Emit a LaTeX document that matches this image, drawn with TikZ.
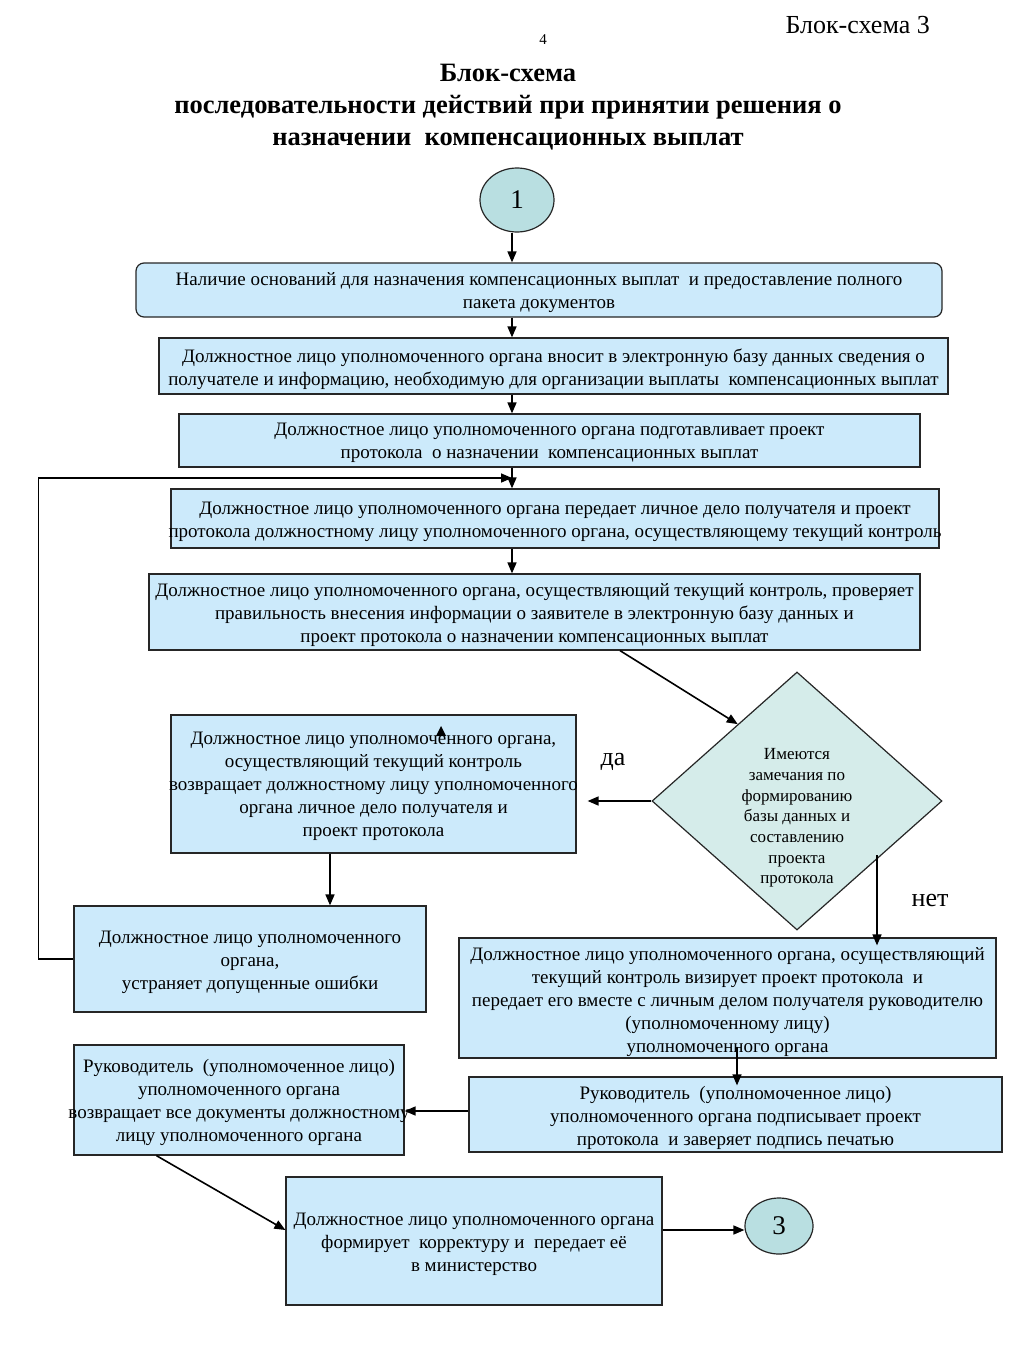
\documentclass[tikz,border=0pt]{standalone}
\usepackage{fontspec}
\setmainfont{Liberation Serif}
\usetikzlibrary{arrows.meta,calc,shapes.geometric}
\definecolor{boxblue}{HTML}{CCEAFB}
\definecolor{circteal}{HTML}{B9DFE1}
\definecolor{diateal}{HTML}{D5ECEA}
\tikzset{
  box/.style={draw=black!85, fill=boxblue, line width=1.2pt, inner sep=0pt},
  txt/.style={inner sep=0pt, align=center, font=\fontsize{19}{23}\selectfont},
  circ/.style={ellipse, draw=black!85, fill=circteal, line width=1.2pt, inner sep=0pt,
    font=\fontsize{27}{27}\selectfont},
  conn/.style={line width=1.6pt, -{Triangle[length=11pt,width=9pt]}},
  lbl/.style={font=\fontsize{26}{26}\selectfont, inner sep=0pt}
}
\begin{document}
\begin{tikzpicture}[x=1pt,y=-1pt]
\useasboundingbox (0,0) rectangle (1024,1365);
% headings
\node[lbl, anchor=east] (hdr) at (930,25) {Блок-схема 3};
\node[font=\fontsize{15}{15}\selectfont, inner sep=0pt] (pg) at (543,40) {4};
\node[font=\bfseries\fontsize{26.5}{32}\selectfont, align=center, inner sep=0pt] (ttl) at (508,107)
  {Блок-схема\\последовательности действий при принятии решения о\\назначении\ \ компенсационных выплат};
% nodes
\node[circ, minimum width=74pt, minimum height=64pt] (c1) at (517,200) {1};
\node[box, rounded corners=8pt, minimum width=806pt, minimum height=54pt] (b1) at (539,290) {};
\node[txt] (t1) at ($(b1)+(0,3)$)
  {Наличие оснований для назначения компенсационных выплат\ \ и предоставление полного\\пакета документов};
\node[box, minimum width=789pt, minimum height=56pt] (b2) at (553.5,366) {};
\node[txt] (t2) at ($(b2)+(0,3)$)
  {Должностное лицо уполномоченного органа вносит в электронную базу данных сведения о\\получателе и информацию, необходимую для организации выплаты\ \ компенсационных выплат};
\node[box, minimum width=741pt, minimum height=53pt] (b3) at (549.5,440.5) {};
\node[txt] (t3) at ($(b3)+(0,2)$)
  {Должностное лицо уполномоченного органа подготавливает проект\\протокола\ \ о назначении\ \ компенсационных выплат};
\node[box, minimum width=768pt, minimum height=59pt] (b4) at (555,518.5) {};
\node[txt] (t4) at ($(b4)+(0,3)$)
  {Должностное лицо уполномоченного органа передает личное дело получателя и проект\\протокола должностному лицу уполномоченного органа, осуществляющему текущий контроль};
\node[box, minimum width=771pt, minimum height=76pt] (b5) at (534.5,612) {};
\node[txt] (t5) at ($(b5)+(0,3)$)
  {Должностное лицо уполномоченного органа, осуществляющий текущий контроль, проверяет\\правильность внесения информации о заявителе в электронную базу данных и\\проект протокола о назначении компенсационных выплат};
\node[diamond, draw=black!85, fill=diateal, line width=1.2pt, inner sep=0pt,
  minimum width=290pt, minimum height=258pt] (dia) at (797,801) {};
\node[align=center, inner sep=0pt, font=\fontsize{17}{20.7}\selectfont] (diat) at (797,818)
  {Имеются\\замечания по\\формированию\\базы данных и\\составлению\\проекта\\протокола};
\node[box, minimum width=405pt, minimum height=138pt] (b6) at (373.5,784) {};
\node[txt] (t6) at ($(b6)+(0,2)$)
  {Должностное лицо уполномоченного органа,\\осуществляющий текущий контроль\\возвращает должностному лицу уполномоченного\\органа личное дело получателя и\\проект протокола};
\node[box, minimum width=352pt, minimum height=106pt] (b7) at (250,959) {};
\node[txt] (t7) at ($(b7)+(0,3)$)
  {Должностное лицо уполномоченного\\органа,\\устраняет допущенные ошибки};
\node[box, minimum width=537pt, minimum height=120pt] (b8) at (727.5,998) {};
\node[txt] (t8) at ($(b8)+(0,4)$)
  {Должностное лицо уполномоченного органа, осуществляющий\\текущий контроль визирует проект протокола\ \ и\\передает его вместе с личным делом получателя руководителю\\(уполномоченному лицу)\\уполномоченного органа};
\node[box, minimum width=533pt, minimum height=75pt] (b9) at (735.5,1114.5) {};
\node[txt] (t9) at ($(b9)+(0,3)$)
  {Руководитель\ \ (уполномоченное лицо)\\уполномоченного органа подписывает проект\\протокола\ \ и заверяет подпись печатью};
\node[box, minimum width=330pt, minimum height=110pt] (b10) at (239,1100) {};
\node[txt] (t10) at ($(b10)+(0,2)$)
  {Руководитель\ \ (уполномоченное лицо)\\уполномоченного органа\\возвращает все документы должностному\\лицу уполномоченного органа};
\node[box, minimum width=376pt, minimum height=128pt] (b11) at (474,1241) {};
\node[txt] (t11) at ($(b11)+(0,3)$)
  {Должностное лицо уполномоченного органа\\формирует\ \ корректуру и\ \ передает её\\в министерство};
\node[circ, minimum width=68pt, minimum height=56pt] (c3) at (779,1226) {3};
% labels
\node[lbl] (da) at (613,762) {да};
\node[lbl] (net) at (930,900) {нет};
% connectors
\coordinate (j) at (512,478);
\draw[conn] (j |- c1.south) -- (j |- b1.north);
\draw[conn] (j |- b1.south) -- (j |- b2.north);
\draw[conn] (j |- b2.south) -- (j |- b3.north);
\draw[conn] (j |- b3.south) -- (j |- b4.north);
\draw[conn] (j |- b4.south) -- (j |- b5.north);
\draw[conn] (b7.west) -- ++(-35,0) |- (j);
\draw[conn] ($(b5.south)+(85.5,0)$) -- ($(dia.north)!0.407!(dia.west)$);
\draw[conn, shorten >=11pt] (dia.west) -- (dia.west -| b6.east);
\coordinate (dn) at (330,0);
\draw[conn] (dn |- b6.south) -- (dn |- b7.north);
\coordinate (ns) at ($(dia.center)+(80,54)$);
\coordinate (ne) at ($(ns |- b8.north)+(0,8)$);
\draw[conn] (ns) -- (ne);
\coordinate (ys) at ($(b8.south)+(9.5,-12)$);
\coordinate (ye) at ($(ys |- b9.north)+(0,9)$);
\draw[conn] (ys) -- (ye);
\coordinate (ls) at ($(b9.west)+(0,-3.5)$);
\draw[conn] (ls) -- (ls -| b10.east);
\draw[conn] ($(b10.south west)+(83,0)$) -- ($(b11.west)+(0,-11)$);
\coordinate (rs) at ($(b11.east)+(0,-11)$);
\draw[conn] (rs) -- (rs -| c3.west);
% stray arrowhead
\fill (436,736) -- (446,736) -- (441,726) -- cycle;
\end{tikzpicture}
\end{document}
